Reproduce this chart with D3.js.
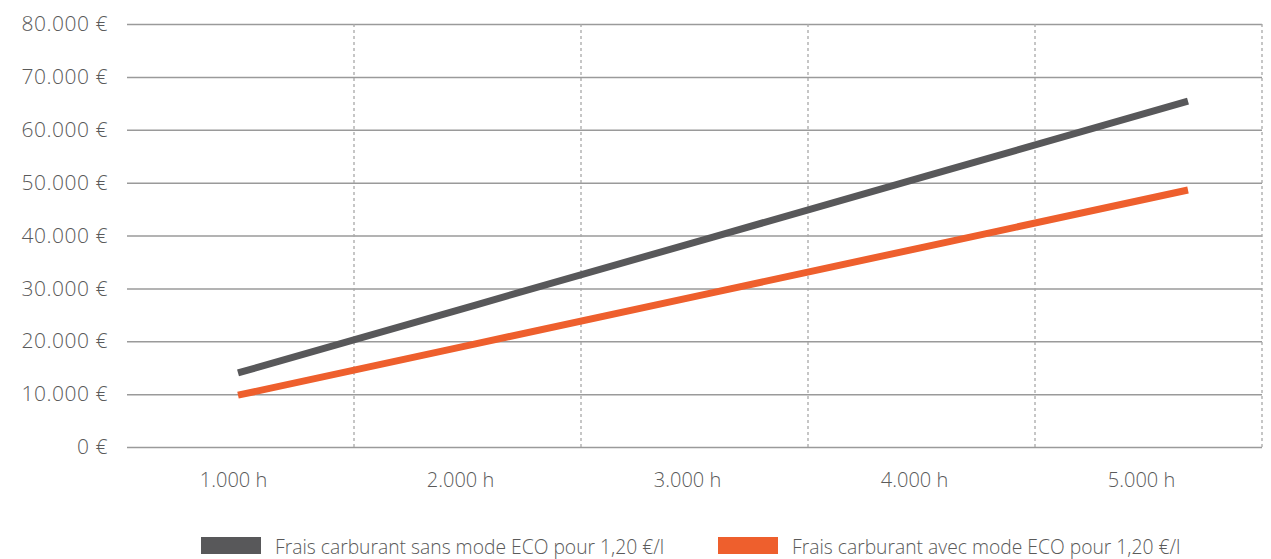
<!DOCTYPE html>
<html><head><meta charset="utf-8">
<script src="https://cdn.jsdelivr.net/npm/d3@7"></script>
<style>
body{margin:0;background:#fff;}
text{font-family:"Open Sans",sans-serif;font-weight:300;fill:#5a5a5a;}
</style></head>
<body><svg id="c" width="1271" height="559"></svg>
<script>
const categories = ["1.000 h","2.000 h","3.000 h","4.000 h","5.000 h"];
const sansEco = [14000, 26850, 39700, 52550, 65400];
const avecEco = [9800, 19500, 29200, 38900, 48600];
const yTicks = [0,10000,20000,30000,40000,50000,60000,70000,80000];
const seriesNames = ["Frais carburant sans mode ECO pour 1,20 €/l","Frais carburant avec mode ECO pour 1,20 €/l"];
const colors = ["#58585a","#ee5f2d"];

const svg = d3.select("#c");
const L=127, R=1262, T=24, B=447;
const locale = d3.formatLocale({decimal:",",thousands:".",grouping:[3],currency:["","€"]});
const fmt = locale.format(",.0f");

const x = d3.scaleBand().domain(categories).range([L,R]).padding(0);
const xl = d3.scalePoint().domain(categories).range([238,1188]);
const y = d3.scaleLinear().domain([0,80000]).range([B,T]);

const textStyle = (sel, size) => sel.style("font-size",size+"px").attr("fill","#5a5a5a")
  .style("font-family","'Open Sans',sans-serif").style("font-weight","300");

// horizontal grid + y labels
const ya = svg.append("g").attr("transform",`translate(${L},0)`)
  .call(d3.axisLeft(y).tickValues(yTicks).tickSize(-(R-L)).tickPadding(19).tickFormat(d=>fmt(d)+" €"));
ya.select(".domain").remove();
ya.selectAll(".tick line").attr("stroke","#9a9a9a").attr("stroke-width",1.5);
ya.selectAll(".tick text").call(textStyle, 21).style("letter-spacing","0.5px");

// vertical dashed separators
svg.append("g").selectAll("line").data(categories).join("line")
  .attr("x1",d=>x(d)+x.bandwidth()).attr("x2",d=>x(d)+x.bandwidth())
  .attr("y1",T).attr("y2",B)
  .attr("stroke","#a8a8a8").attr("stroke-width",1.3).attr("stroke-dasharray","3,3");

// x labels
const xa = svg.append("g").attr("transform",`translate(-7,${B})`)
  .call(d3.axisBottom(x).tickSize(0).tickPadding(26));
xa.select(".domain").remove();
xa.selectAll(".tick text").call(textStyle, 20);

// lines
const line = d3.line().x((d,i)=>xl(categories[i])).y(d=>y(d));
[sansEco, avecEco].forEach((s,k)=>{
  svg.append("path").datum(s).attr("d",line).attr("fill","none")
    .attr("stroke",colors[k]).attr("stroke-width",7);
});

// legend
const lg = svg.append("g");
const lx = [201, 718];
seriesNames.forEach((n,k)=>{
  lg.append("rect").attr("x",lx[k]).attr("y",537).attr("width",60).attr("height",17).attr("fill",colors[k]);
  lg.append("text").attr("x",lx[k]+74).attr("y",554).text(n).style("font-size","19.3px");
});
</script></body></html>
